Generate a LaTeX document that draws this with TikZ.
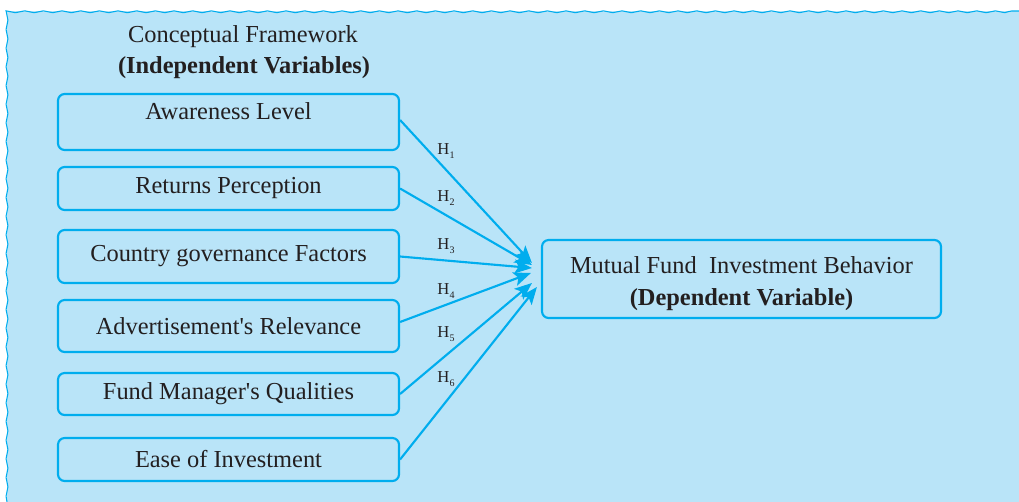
\documentclass[tikz,border=0pt]{standalone}
\usepackage{fontspec}
\setmainfont{Liberation Serif}
\usetikzlibrary{arrows.meta,decorations.pathmorphing}

\definecolor{bgblue}{RGB}{185,228,248}
\definecolor{lineblue}{RGB}{0,173,238}
\definecolor{inktext}{RGB}{35,31,32}

\newcommand{\hyplabel}[1]{H\raisebox{-3pt}{\fontsize{7.5}{8}\selectfont #1}}

\tikzset{
  varbox/.style={draw=lineblue, line width=1.6pt, rounded corners=5pt, minimum width=255.75pt,
    inner sep=0pt, text=inktext, font=\fontsize{18.3}{22}\selectfont},
  hyp/.style={draw=lineblue, line width=1.6pt, -{Stealth[length=13pt,width=10.5pt,inset=3pt]}},
  hlabel/.style={inner sep=0.75pt, text=inktext, font=\fontsize{12.5}{14}\selectfont},
}

\begin{document}
\begin{tikzpicture}[x=0.75pt,y=0.75pt,yscale=-1,xscale=1]
\useasboundingbox (0,0) rectangle (1019,502);

%Background panel with wavy top and left edges
\fill [bgblue] (7,11) rectangle (1019,502);
\draw [lineblue, line width=0.8pt, decorate, decoration={snake, segment length=14pt, amplitude=0.7pt}] (7,502) -- (7,11) -- (1019,11);

% Text Node
\node (title) at (243,37) [inner sep=0.75pt, text=inktext, font=\fontsize{18.3}{22}\selectfont] {Conceptual Framework};
% Text Node
\node (subtitle) at (244,68) [inner sep=0.75pt, text=inktext, font=\fontsize{18.3}{22}\selectfont\bfseries] {(Independent Variables)};

%Independent variables
\node (aware) at (228.5,122) [varbox, minimum height=42pt, text depth=16pt] {Awareness Level};
\node (ret) at (228.5,188.5) [varbox, minimum height=32.25pt] {Returns Perception};
\node (gov) at (228.5,256.5) [varbox, minimum height=39.75pt] {Country governance Factors};
\node (adv) at (228.5,326) [varbox, minimum height=39pt] {Advertisement\textquotesingle s Relevance};
\node (mgr) at (228.5,394) [varbox, minimum height=31.5pt] {Fund Manager\textquotesingle s Qualities};
\node (ease) at (228.5,459.5) [varbox, minimum height=32.25pt] {Ease of Investment};

%Dependent variable
\node (dep) at (741.5,279) [varbox, minimum width=299.25pt, minimum height=58.5pt, align=center] {\rule{0pt}{20pt}Mutual Fund\ \ Investment Behavior\\[2pt]\textbf{(Dependent Variable)}};

%Hypotheses (shifts are flipped by yscale=-1)
\draw [hyp] ([yshift=-1.5pt]aware.east) -- ([xshift=-6.75pt,yshift=-12pt]dep.west);
\draw [hyp] (ret.east) -- ([xshift=-6.75pt,yshift=-10.5pt]dep.west);
\draw [hyp] (gov.east) -- ([xshift=-6.75pt,yshift=-8.25pt]dep.west);
\draw [hyp] ([yshift=-3pt]adv.east) -- ([xshift=-7.5pt,yshift=-4.5pt]dep.west);
\draw [hyp] (mgr.east) -- ([xshift=-6.75pt,yshift=3pt]dep.west);
\draw [hyp] (ease.east) -- ([xshift=-3pt,yshift=6pt]dep.west);

% Text Node
\node (h1) at (446,151) [hlabel] {\hyplabel{1}};
\node (h2) at (446,198) [hlabel] {\hyplabel{2}};
\node (h3) at (446,246) [hlabel] {\hyplabel{3}};
\node (h4) at (446,291) [hlabel] {\hyplabel{4}};
\node (h5) at (446,334) [hlabel] {\hyplabel{5}};
\node (h6) at (446,379) [hlabel] {\hyplabel{6}};

\end{tikzpicture}
\end{document}
